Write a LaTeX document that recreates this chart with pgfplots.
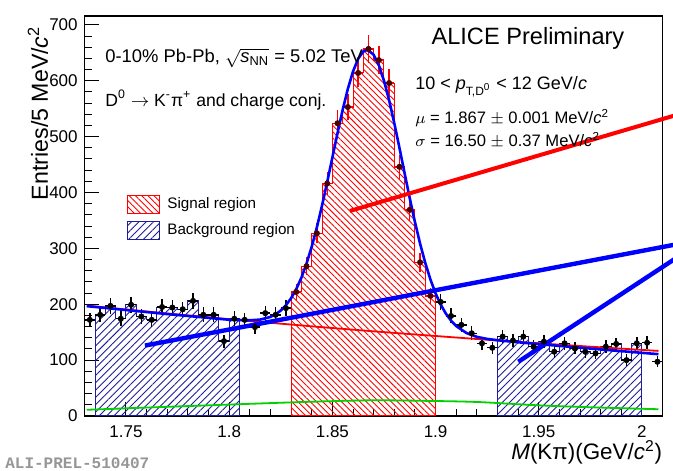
\documentclass[border=0pt]{standalone}
\usepackage{fontspec}
\setmainfont{Liberation Sans}
\newfontfamily\monofont{Liberation Mono}
\usepackage{amsmath}
\usepackage{pgfplots}
\usepackage{pgfplotstable}
\pgfplotsset{compat=1.18}
\usetikzlibrary{patterns.meta,calc}

\definecolor{rootred}{RGB}{255,0,0}
\definecolor{rootblue}{RGB}{0,0,255}
\definecolor{hatchblue}{RGB}{30,30,150}
\definecolor{rootgreen}{RGB}{0,210,0}
\definecolor{preltext}{RGB}{150,150,150}

% D0 candidates per 5 MeV/c^2 bin: centre, counts, half bin width, stat. error
\pgfplotstableread{
x y ex ey
1.7325 172 0.0025 13.1
1.7375 181 0.0025 13.5
1.7425 197 0.0025 14.0
1.7475 174 0.0025 13.2
1.7525 199 0.0025 14.1
1.7575 178 0.0025 13.3
1.7625 172 0.0025 13.1
1.7675 195 0.0025 14.0
1.7725 194 0.0025 13.9
1.7775 191 0.0025 13.8
1.7825 206 0.0025 14.4
1.7875 181 0.0025 13.5
1.7925 181 0.0025 13.5
1.7975 134 0.0025 11.6
1.8025 174 0.0025 13.2
1.8075 172 0.0025 13.1
1.8125 159 0.0025 12.6
1.8175 184 0.0025 13.6
1.8225 181 0.0025 13.5
1.8275 193 0.0025 13.9
1.9025 204 0.0025 14.3
1.9075 179 0.0025 13.4
1.9125 163 0.0025 12.8
1.9175 148 0.0025 12.2
1.9225 130 0.0025 11.4
1.9275 122 0.0025 11.0
1.9325 142 0.0025 11.9
1.9375 135 0.0025 11.6
1.9425 142 0.0025 11.9
1.9475 124 0.0025 11.1
1.9525 133 0.0025 11.5
1.9575 115 0.0025 10.7
1.9625 130 0.0025 11.4
1.9675 121 0.0025 11.0
1.9725 115 0.0025 10.7
1.9775 112 0.0025 10.6
1.9825 124 0.0025 11.1
1.9875 129 0.0025 11.4
1.9925 100 0.0025 10.0
1.9975 130 0.0025 11.4
2.0025 131 0.0025 11.4
2.0075 97 0.0025 9.8
}\sidedata

\pgfplotstableread{
x y ex ey
1.8325 222 0.0025 14.9
1.8375 268 0.0025 16.4
1.8425 327 0.0025 18.1
1.8475 416 0.0025 20.4
1.8525 524 0.0025 22.9
1.8575 553 0.0025 23.5
1.8625 614 0.0025 24.8
1.8675 657 0.0025 25.6
1.8725 637 0.0025 25.2
1.8775 596 0.0025 24.4
1.8825 446 0.0025 21.1
1.8875 369 0.0025 19.2
1.8925 275 0.0025 16.6
1.8975 215 0.0025 14.7
}\peakdata

% selected regions, bin low edges (last row closes the final bin)
\pgfplotstableread{
x y
1.830 222
1.835 268
1.840 327
1.845 416
1.850 524
1.855 553
1.860 614
1.865 657
1.870 637
1.875 596
1.880 446
1.885 369
1.890 275
1.895 215
1.900 215
}\sigregion

\pgfplotstableread{
x y
1.735 181
1.740 197
1.745 174
1.750 199
1.755 178
1.760 172
1.765 195
1.770 194
1.775 191
1.780 206
1.785 181
1.790 181
1.795 134
1.800 174
1.805 174
}\sbleft

\pgfplotstableread{
x y
1.930 142
1.935 135
1.940 142
1.945 124
1.950 133
1.955 115
1.960 130
1.965 121
1.970 115
1.975 112
1.980 124
1.985 129
1.990 100
1.995 130
2.000 130
}\sbright

\begin{document}
\begin{tikzpicture}
\begin{axis}[
  scale only axis,
  width=289pt, height=200pt,
  xmin=1.73, xmax=2.01, ymin=0, ymax=716,
  clip=false,
  axis line style={line width=0.6pt},
  tick align=inside, tick pos=left,
  xtick={1.75,1.8,1.85,1.9,1.95,2},
  ytick={0,100,...,700},
  minor x tick num=4, minor y tick num=4,
  major tick length=7pt, minor tick length=3.5pt,
  tick style={line width=0.5pt, black},
  /pgf/number format/assume math mode=true,
  ticklabel style={font=\fontsize{8.5}{10}\selectfont},
  xticklabel style={inner sep=0pt, yshift=-4.8pt},
  xlabel={\textit{M}(Kπ)(GeV/\textit{c}\textsuperscript{2})},
  xlabel style={at={(axis description cs:1,0)}, anchor=north east,
    inner sep=0pt, yshift=-12pt, font=\fontsize{11.2}{13}\selectfont},
  ylabel={Entries/5 MeV/\textit{c}\textsuperscript{2}},
  ylabel style={at={(axis description cs:-0.081,0.975)}, anchor=east,
    inner sep=0pt, font=\fontsize{11.6}{14}\selectfont},
  legend style={at={(axis description cs:0.0732,0.5525)}, anchor=north west,
    draw=none, fill=none, inner sep=0pt, row sep=3.5pt,
    font=\fontsize{7.6}{9}\selectfont,
    nodes={inner sep=0pt}},
  legend cell align=left,
  legend image code/.code={\draw[#1] (0pt,-4.5pt) rectangle (16pt,4.5pt);
    \path (19.5pt,0pt);},
]

% selected invariant-mass regions
\addplot[const plot, draw=rootred, line width=0.5pt,
  pattern={Lines[angle=-45,distance=2.2pt,line width=0.45pt]}, pattern color=rootred]
  table {\sigregion} \closedcycle;
\addlegendentry{Signal region}
\addplot[const plot, draw=hatchblue, line width=0.5pt,
  pattern={Lines[angle=45,distance=2.6pt,line width=0.45pt]}, pattern color=hatchblue]
  table {\sbleft} \closedcycle;
\addlegendentry{Background region}
\addplot[const plot, draw=hatchblue, line width=0.5pt, forget plot,
  pattern={Lines[angle=45,distance=2.6pt,line width=0.45pt]}, pattern color=hatchblue]
  table {\sbright} \closedcycle;

% data
\addplot[only marks, mark=*, mark size=1.3pt, black, forget plot,
  error bars/.cd, x dir=both, x explicit, y dir=both, y explicit,
  error mark=none, error bar style={line width=0.7pt, black}]
  table[x=x, y=y, x error=ex, y error=ey] {\sidedata};
\addplot[only marks, mark=*, mark size=1.3pt, black!70!red, forget plot,
  error bars/.cd, x dir=both, x explicit, y dir=both, y explicit,
  error mark=none, error bar style={line width=0.7pt, rootred}]
  table[x=x, y=y, x error=ex, y error=ey] {\peakdata};

% background fit
\addplot[rootred, line width=0.9pt, smooth, forget plot] coordinates {
 (1.731,197.6) (1.75,190.6) (1.77,183.4) (1.79,176.6) (1.81,169.9)
 (1.83,163.6) (1.85,157.4) (1.87,151.5) (1.89,145.9) (1.91,140.4)
 (1.93,135.1) (1.95,130.1) (1.97,125.2) (1.99,120.5) (2.008,116.4)};

% reflections
\addplot[rootgreen, line width=0.9pt, smooth, forget plot] coordinates {
 (1.731,11) (1.76,15) (1.79,19) (1.82,23) (1.845,26) (1.87,28)
 (1.895,27) (1.92,25) (1.95,19) (1.98,15) (2.008,12)};

% total fit
\addplot[rootblue, line width=1.3pt, forget plot] coordinates {
 (1.731,196.6) (1.74,193.3) (1.75,189.6) (1.76,186.0) (1.77,182.4)
 (1.78,179.0) (1.79,175.6) (1.80,172.2) (1.81,171.2) (1.815,172.5)
 (1.82,177.2) (1.8225,182.0) (1.825,188.7) (1.8275,198.2) (1.83,210.7)
 (1.8325,227.0) (1.835,247.6) (1.8375,272.9) (1.84,303.0) (1.8425,337.7)
 (1.845,376.7) (1.8475,418.7) (1.85,462.5) (1.8525,506.3) (1.855,548.0)
 (1.8575,585.5) (1.86,616.6) (1.8625,639.4) (1.865,652.5) (1.867,655.4)
 (1.87,646.7) (1.8725,628.2) (1.875,600.4) (1.8775,565.1) (1.88,524.2)
 (1.8825,479.9) (1.885,434.5) (1.8875,389.7) (1.89,347.3) (1.8925,308.5)
 (1.895,274.1) (1.8975,244.4) (1.90,219.5) (1.9025,199.2) (1.905,183.2)
 (1.9075,170.6) (1.91,160.9) (1.915,148.4) (1.92,141.6) (1.925,137.9)
 (1.93,135.6) (1.94,131.9) (1.95,128.6) (1.96,125.4) (1.97,122.2)
 (1.98,119.1) (1.99,116.0) (2.00,113.0) (2.008,110.6)};

% pointers
\draw[rootred, line width=2pt] (axis cs:1.8585,367) -- (axis cs:2.02,542.4);
\draw[rootblue, line width=2.2pt] (axis cs:1.7592,126) -- (axis cs:2.02,309.5);
\draw[rootblue, line width=2.2pt] (axis cs:1.9401,97) -- (axis cs:2.02,291);

% labels
\node[anchor=west, inner sep=0pt, font=\fontsize{9.2}{11}\selectfont]
  at (axis description cs:0.0351,0.895)
  {0-10\% Pb-Pb, $\sqrt{\text{\textit{s}}_{\text{NN}}}$ = 5.02 TeV};
\node[anchor=west, inner sep=0pt, font=\fontsize{8.8}{11}\selectfont]
  at (axis description cs:0.0351,0.79)
  {D\textsuperscript{0} $\rightarrow$ K\textsuperscript{-}π\textsuperscript{+} and charge conj.};
\node[anchor=center, inner sep=0pt, font=\fontsize{11.8}{14}\selectfont]
  at (axis description cs:0.767,0.945) {ALICE Preliminary};
\node[anchor=west, inner sep=0pt, font=\fontsize{9}{11}\selectfont]
  at (axis description cs:0.5715,0.8225)
  {10 < \textit{p}$_{\text{T,D\textsuperscript{0}}}$ < 12 GeV/\textit{c}};
\node[anchor=west, inner sep=0pt, font=\fontsize{8.3}{10}\selectfont]
  at (axis description cs:0.5715,0.745)
  {$\mu$ = 1.867 $\pm$ 0.001 MeV/\textit{c}\textsuperscript{2}};
\node[anchor=west, inner sep=0pt, font=\fontsize{8.3}{10}\selectfont]
  at (axis description cs:0.5715,0.69)
  {$\sigma$ = 16.50 $\pm$ 0.37 MeV/\textit{c}\textsuperscript{2}};
\node[anchor=west, inner sep=0pt, text=preltext, font=\monofont\bfseries\fontsize{8}{9}\selectfont]
  at (axis description cs:-0.138,-0.1175) {ALI-PREL-510407};

\coordinate (frameSW) at (axis description cs:0,0);
\coordinate (frameNE) at (axis description cs:1,1);
\end{axis}
\pgfresetboundingbox
\path[use as bounding box] ($(frameSW)+(-42.35pt,-27.5pt)$) rectangle ($(frameNE)+(5.2pt,8pt)$);
\end{tikzpicture}
\end{document}
